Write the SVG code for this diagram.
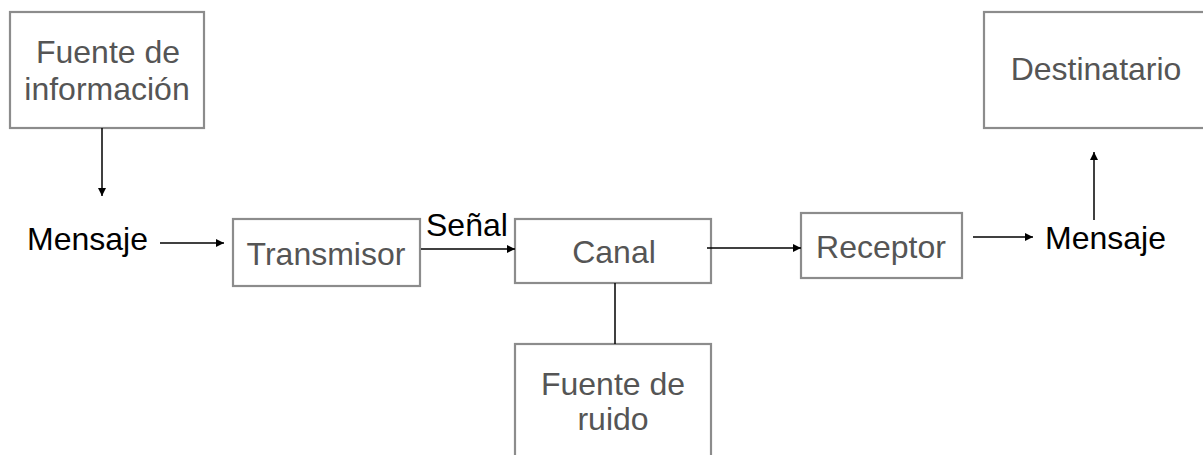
<svg xmlns="http://www.w3.org/2000/svg" width="1203" height="455" viewBox="0 0 1203 455">
<style>
.box{fill:#fff;stroke:#8c8c8c;stroke-width:2.2}
.lbl{font-family:"Liberation Sans",Arial,sans-serif;font-size:32px;fill:#555;text-anchor:middle}
.blk{font-family:"Liberation Sans",Arial,sans-serif;font-size:32px;fill:#000}
.edge{stroke:#000;stroke-width:1.5;fill:none}
</style>
<defs>
<marker id="ah" viewBox="0 0 10 10" refX="10" refY="5" markerWidth="8" markerHeight="8" markerUnits="userSpaceOnUse" orient="auto">
<path d="M0,0 L10,5 L0,10 z" fill="#000"/>
</marker>
</defs>
<rect width="1203" height="455" fill="#fff"/>
<g id="fuente-informacion">
<rect class="box" x="10" y="12" width="194" height="116"/>
<text class="lbl" x="108" y="63">Fuente de</text>
<text class="lbl" x="107" y="100">información</text>
</g>
<g id="mensaje-in">
<text class="blk" x="27" y="250">Mensaje</text>
</g>
<g id="transmisor">
<rect class="box" x="233" y="219" width="187" height="67"/>
<text class="lbl" x="326" y="265">Transmisor</text>
</g>
<g id="canal">
<rect class="box" x="515" y="219" width="196" height="64"/>
<text class="lbl" x="614" y="263">Canal</text>
</g>
<g id="fuente-ruido">
<rect class="box" x="515" y="344" width="196" height="130"/>
<text class="lbl" x="613" y="395">Fuente de</text>
<text class="lbl" x="613" y="430">ruido</text>
</g>
<g id="receptor">
<rect class="box" x="801" y="213" width="161" height="65"/>
<text class="lbl" x="881" y="258">Receptor</text>
</g>
<g id="mensaje-out">
<text class="blk" x="1045" y="249">Mensaje</text>
</g>
<g id="destinatario">
<rect class="box" x="984" y="12" width="240" height="116"/>
<text class="lbl" x="1096" y="80">Destinatario</text>
</g>
<g id="connectors">
<line class="edge" x1="102" y1="128" x2="102" y2="196" marker-end="url(#ah)"/>
<line class="edge" x1="160" y1="243" x2="224" y2="243" marker-end="url(#ah)"/>
<line class="edge" x1="421" y1="249" x2="515" y2="249" marker-end="url(#ah)"/>
<text class="blk" x="426" y="236">Señal</text>
<line class="edge" x1="707" y1="248" x2="801" y2="248" marker-end="url(#ah)"/>
<line class="edge" x1="615" y1="283" x2="615" y2="344"/>
<line class="edge" x1="973" y1="237" x2="1033" y2="237" marker-end="url(#ah)"/>
<line class="edge" x1="1094" y1="220" x2="1094" y2="152" marker-end="url(#ah)"/>
</g>
</svg>
